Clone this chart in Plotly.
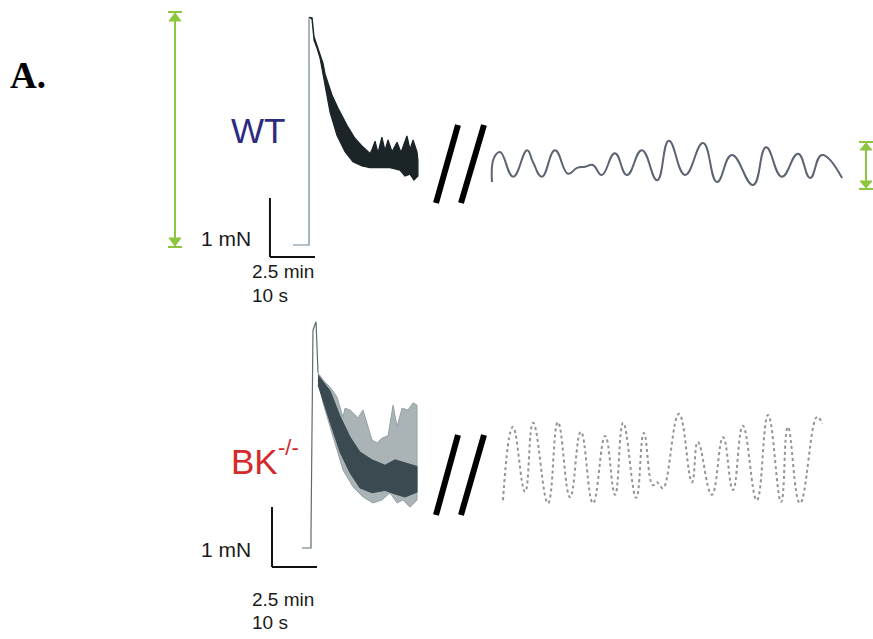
import plotly.graph_objects as go

# ---------------- data (time in min / s, force in mN) ----------------
# WT, slow time base (min)
wt_rise_t = [0.0, 0.83, 0.89, 0.89]
wt_rise_F = [0.0, 0.0, 0.0, 3.86]
wt_up_t = [0.89, 1.06, 1.17, 1.33, 1.50, 1.67, 1.78, 2.17, 2.50, 3.00, 3.44, 3.89, 4.28, 4.39, 4.56, 4.72,
           4.94, 5.11, 5.28, 5.50, 5.78, 6.00, 6.11, 6.33, 6.50, 6.67, 6.89, 6.94]
wt_up_F = [3.86, 3.85, 3.53, 3.39, 3.25, 3.08, 2.90, 2.54, 2.32, 2.03, 1.81, 1.66, 1.55, 1.62, 1.76, 1.56,
           1.83, 1.60, 1.78, 1.58, 1.74, 1.57, 1.66, 1.85, 1.62, 1.78, 1.58, 1.44]
wt_lo_t = [1.06, 1.17, 1.33, 1.50, 1.67, 2.06, 2.44, 2.89, 3.33, 3.83, 4.28, 4.83, 5.39, 5.94, 6.22,
           6.50, 6.72, 6.94]
wt_lo_F = [3.81, 3.47, 3.34, 3.17, 2.93, 2.25, 1.86, 1.58, 1.41, 1.34, 1.31, 1.31, 1.31, 1.27, 1.17,
           1.20, 1.10, 1.17]

# WT, fast time base (s)
wt_fast_t = [0, 0.44, 1.8, 4.7, 7.8, 9.1, 11.1, 14.0, 16.9, 18.9, 20.7, 22.4, 24.4, 27.3, 30.0, 33.3,
             36.7, 39.3, 42.9, 46.9, 50.0, 53.3, 58.0, 60.9, 64.4, 68.0, 70.7, 73.3, 77.8]
wt_fast_F = [0.05, 0.46, 0.56, 0.14, 0.59, 0.39, 0.14, 0.59, 0.19, 0.29, 0.31, 0.34, 0.17, 0.54, 0.17,
             0.59, 0.08, 0.75, 0.17, 0.71, 0.05, 0.51, 0.0, 0.64, 0.14, 0.53, 0.12, 0.51, 0.12]

# BK-/-, slow time base (min)
bk_rise_t = [0.0, 0.50, 0.50, 0.61, 0.78, 0.89]
bk_rise_F = [0.0, 0.0, 0.25, 3.63, 3.77, 2.92]
bk_up_t = [0.89, 1.17, 1.56, 1.94, 2.28, 2.39, 2.67, 3.11, 3.39, 3.89, 4.17, 4.44, 4.78, 5.06, 5.28,
           5.56, 5.89, 6.17, 6.39]
bk_up_F = [2.92, 2.80, 2.68, 2.52, 2.18, 2.33, 2.30, 2.17, 2.30, 1.80, 1.75, 1.83, 1.87, 2.38, 2.02,
           2.33, 2.30, 2.42, 2.38]
bk_lo_t = [0.89, 1.17, 1.56, 1.94, 2.28, 2.83, 3.39, 3.94, 4.44, 4.89, 5.28, 5.61, 6.00, 6.39]
bk_lo_F = [2.80, 2.42, 2.02, 1.63, 1.30, 1.02, 0.85, 0.75, 0.80, 0.92, 0.75, 0.80, 0.68, 0.80]
bk_core_up_t = [0.89, 1.56, 2.11, 2.67, 3.22, 3.89, 4.61, 5.17, 5.72, 6.39]
bk_core_up_F = [2.88, 2.62, 2.20, 1.85, 1.60, 1.47, 1.38, 1.47, 1.42, 1.36]
bk_core_lo_t = [0.89, 1.56, 2.11, 2.67, 3.22, 3.89, 4.61, 5.17, 5.72, 6.39]
bk_core_lo_F = [2.72, 2.10, 1.60, 1.25, 1.00, 0.92, 0.96, 0.90, 0.85, 0.93]

# BK-/-, fast time base (s)
bk_fast_t = [0, 2.2, 4.9, 6.7, 10.0, 12.2, 14.9, 17.3, 20.0, 22.7, 24.9, 26.7, 29.6, 31.3, 33.3, 34.2,
             34.9, 35.6, 39.1, 42.0, 43.3, 46.4, 48.9, 51.1, 53.3, 56.4, 58.9, 61.8, 63.3, 66.0, 69.8, 70.9]
bk_fast_F = [0.08, 1.30, 0.22, 1.37, 0.03, 1.38, 0.13, 1.22, 0.03, 1.15, 0.17, 1.37, 0.12, 1.20, 0.33, 0.38,
             0.32, 0.28, 1.52, 0.38, 1.05, 0.17, 1.13, 0.25, 1.32, 0.08, 1.50, 0.05, 1.30, 0.03, 1.47, 1.35]

SCALE_F = 1.0      # mN
SCALE_T_SLOW = 2.5  # min
SCALE_T_FAST = 10  # s

# ---------------- layout helpers ----------------
W, H = 873, 639


def px(x):
    return x / W


def py(y):
    return 1 - y / H


panels = {
    # name: (domain x px, domain y px (top, bottom), origin px, px per x unit, px per mN)
    "wt_slow": ((240, 432), (5, 265), (293, 245), 18.0, 59.0),
    "wt_fast": ((485, 850), (125, 200), (492, 185), 4.5, 59.0),
    "bk_slow": ((240, 432), (310, 580), (302, 548), 18.0, 60.0),
    "bk_fast": ((495, 830), (400, 515), (503, 505), 4.5, 60.0),
}
order = ["wt_slow", "wt_fast", "bk_slow", "bk_fast"]

fig = go.Figure()
layout_axes = {}
for i, name in enumerate(order, start=1):
    (dx0, dx1), (dyt, dyb), (ox, oy), sx, sy = panels[name]
    xr = [(dx0 - ox) / sx, (dx1 - ox) / sx]
    yr = [(oy - dyb) / sy, (oy - dyt) / sy]
    sfx = "" if i == 1 else str(i)
    layout_axes["xaxis" + sfx] = dict(domain=[px(dx0), px(dx1)], range=xr, visible=False,
                                      anchor="y" + sfx, fixedrange=True)
    layout_axes["yaxis" + sfx] = dict(domain=[py(dyb), py(dyt)], range=yr, visible=False,
                                      anchor="x" + sfx, fixedrange=True)

ax = {n: ("x" if i == 1 else "x%d" % i, "y" if i == 1 else "y%d" % i) for i, n in enumerate(order, start=1)}

# WT slow
xa, ya = ax["wt_slow"]
fig.add_trace(go.Scatter(x=wt_rise_t, y=wt_rise_F, mode="lines", line=dict(color="#6d8595", width=1.2),
                         xaxis=xa, yaxis=ya, showlegend=False))
fig.add_trace(go.Scatter(x=wt_up_t + wt_lo_t[::-1], y=wt_up_F + wt_lo_F[::-1], mode="lines",
                         fill="toself", fillcolor="#1b2427", line=dict(color="#1b2427", width=1.2),
                         xaxis=xa, yaxis=ya, showlegend=False))

# WT fast
xa, ya = ax["wt_fast"]
fig.add_trace(go.Scatter(x=wt_fast_t, y=wt_fast_F, mode="lines",
                         line=dict(color="#5c6472", width=2, shape="spline", smoothing=1.3),
                         xaxis=xa, yaxis=ya, showlegend=False))

# BK slow
xa, ya = ax["bk_slow"]
fig.add_trace(go.Scatter(x=bk_rise_t, y=bk_rise_F, mode="lines", line=dict(color="#5d6c70", width=1.2),
                         xaxis=xa, yaxis=ya, showlegend=False))
fig.add_trace(go.Scatter(x=bk_up_t + bk_lo_t[::-1], y=bk_up_F + bk_lo_F[::-1], mode="lines",
                         fill="toself", fillcolor="#aab4b6", line=dict(color="#95a1a4", width=1),
                         xaxis=xa, yaxis=ya, showlegend=False))
fig.add_trace(go.Scatter(x=bk_core_up_t + bk_core_lo_t[::-1], y=bk_core_up_F + bk_core_lo_F[::-1],
                         mode="lines", fill="toself", fillcolor="#3a4a50", line=dict(color="#3a4a50", width=1),
                         xaxis=xa, yaxis=ya, showlegend=False))

# BK fast
xa, ya = ax["bk_fast"]
fig.add_trace(go.Scatter(x=bk_fast_t, y=bk_fast_F, mode="lines",
                         line=dict(color="#8f9698", width=2, dash="dot", shape="spline", smoothing=1.3),
                         xaxis=xa, yaxis=ya, showlegend=False))

shapes = []
# scale bars (data units)
for name, bx, by in [("wt_slow", -1.28, -0.203), ("bk_slow", -1.667, -0.317)]:
    xa, ya = ax[name]
    shapes.append(dict(type="line", xref=xa, yref=ya, x0=bx, x1=bx, y0=by, y1=by + SCALE_F,
                       line=dict(color="#111111", width=2)))
    shapes.append(dict(type="line", xref=xa, yref=ya, x0=bx, x1=bx + SCALE_T_SLOW, y0=by, y1=by,
                       line=dict(color="#111111", width=2)))

# break marks "//"
for (yb, yt) in [(203, 125), (515, 435)]:
    for (xb, xt) in [(436, 458), (461, 484)]:
        shapes.append(dict(type="line", xref="paper", yref="paper", x0=px(xb), y0=py(yb),
                           x1=px(xt), y1=py(yt), line=dict(color="#000000", width=6)))

# green double arrows
GREEN = "#8cc63f"


def green_arrow(xc, ytop, ybot, half=7, head=9):
    out = []
    out.append(dict(type="line", xref="paper", yref="paper", x0=px(xc), x1=px(xc),
                    y0=py(ytop + 2), y1=py(ybot - 2), line=dict(color=GREEN, width=2)))
    for yy in (ytop, ybot):
        out.append(dict(type="line", xref="paper", yref="paper", x0=px(xc - half), x1=px(xc + half),
                        y0=py(yy), y1=py(yy), line=dict(color=GREEN, width=2)))
    top = "M %f %f L %f %f L %f %f Z" % (px(xc), py(ytop + 1), px(xc - half + 1), py(ytop + head),
                                         px(xc + half - 1), py(ytop + head))
    bot = "M %f %f L %f %f L %f %f Z" % (px(xc), py(ybot - 1), px(xc - half + 1), py(ybot - head),
                                         px(xc + half - 1), py(ybot - head))
    for p in (top, bot):
        out.append(dict(type="path", xref="paper", yref="paper", path=p, fillcolor=GREEN,
                        line=dict(color=GREEN, width=1)))
    return out


shapes += green_arrow(175, 12, 247)
shapes += green_arrow(866, 142, 189, half=7, head=8)

SANS = "Liberation Sans, Arial, sans-serif"
ann = []


def text(x, y, s, size, color="#1a1a1a", family=SANS, xanchor="left", yanchor="middle", weight="normal"):
    ann.append(dict(x=px(x), y=py(y), xref="paper", yref="paper", text=s, showarrow=False,
                    font=dict(family=family, size=size, color=color, weight=weight),
                    xanchor=xanchor, yanchor=yanchor))


text(8, 76, "A.", 37, color="#000000", family="Liberation Serif, Times New Roman, serif", weight="bold")
text(229, 130, "WT", 35, color="#2e2a7e")
text(229, 461, "BK", 35, color="#d42a2a")
text(276, 447, "-/-", 22, color="#d42a2a")
text(199, 238, "1 mN", 21)
text(250, 272, "2.5 min", 19)
text(250, 295, "10 s", 19)
text(199, 549, "1 mN", 21)
text(250, 599, "2.5 min", 19)
text(250, 622, "10 s", 19)

fig.update_layout(width=W, height=H, margin=dict(l=0, r=0, t=0, b=0), paper_bgcolor="white",
                  plot_bgcolor="rgba(0,0,0,0)", shapes=shapes, annotations=ann, **layout_axes)

fig.write_html("out.html")
